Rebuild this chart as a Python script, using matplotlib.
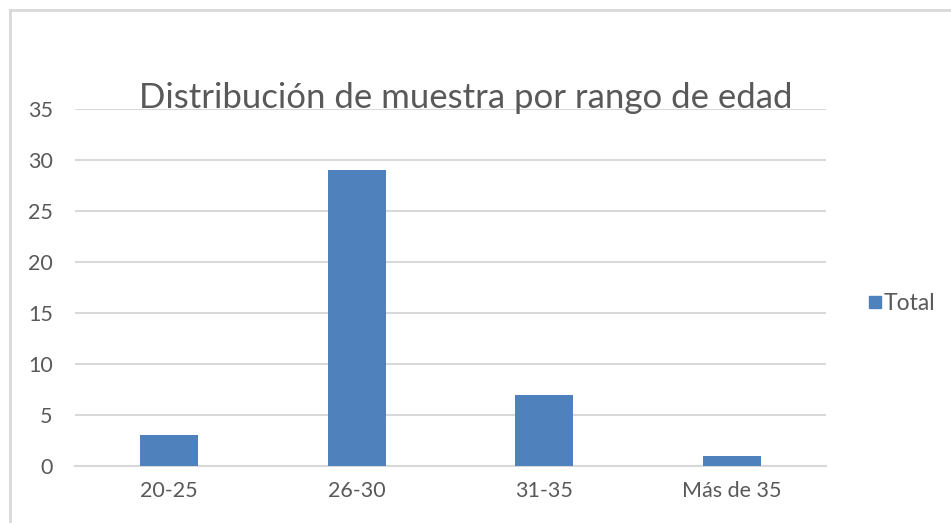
import matplotlib
matplotlib.use("Agg")
import matplotlib.pyplot as plt
from matplotlib.lines import Line2D

categories = ["20-25", "26-30", "31-35", "Más de 35"]
values = [3, 29, 7, 1]
series_name = "Total"
title = "Distribución de muestra por rango de edad"
yticks = [0, 5, 10, 15, 20, 25, 30, 35]

plt.rcParams['font.family'] = ['Lato', 'DejaVu Sans']
txt = "#595959"
grid = "#D9D9D9"
bar_color = "#4F81BD"

fig = plt.figure(figsize=(9.51, 5.23), dpi=100)
ax = fig.add_axes([75/951, 1-466/523, (826-75)/951, (466-109)/523])

x = list(range(len(categories)))
ax.bar(x, values, width=0.31, color=bar_color, zorder=3, label=series_name)
ax.set_xlim(-0.5, len(categories)-0.5)
ax.set_ylim(0, 35)
ax.set_yticks(yticks)
ax.set_xticks(x)
ax.set_xticklabels(categories)
ax.yaxis.grid(True, color=grid, linewidth=1.5, zorder=0)
for s in ["top", "right", "left"]:
    ax.spines[s].set_visible(False)
ax.spines["bottom"].set_color(grid)
ax.spines["bottom"].set_linewidth(1.5)
ax.tick_params(axis="both", length=0, colors=txt, labelsize=15.5)
ax.tick_params(axis="y", pad=16)
ax.tick_params(axis="x", pad=11)

fig.text(466/951, 1-108/523, title, ha="center", va="baseline", fontsize=25, color=txt)

handle = Line2D([], [], marker="s", linestyle="none", markersize=9,
                markerfacecolor=bar_color, markeredgecolor=bar_color)
fig.legend([handle], [series_name], loc="center left",
           bbox_to_anchor=(852/951, 1-304/523), frameon=False,
           handletextpad=-0.1, fontsize=16.5, labelcolor=txt, borderpad=0,
           handlelength=1.0)

# chart border (partially visible)
fig.add_artist(Line2D([10/951, 1.0], [1-10/523, 1-10/523], transform=fig.transFigure, color=grid, linewidth=2))
fig.add_artist(Line2D([10/951, 10/951], [0, 1-10/523], transform=fig.transFigure, color=grid, linewidth=2))

fig.savefig("out.png", dpi=100)
